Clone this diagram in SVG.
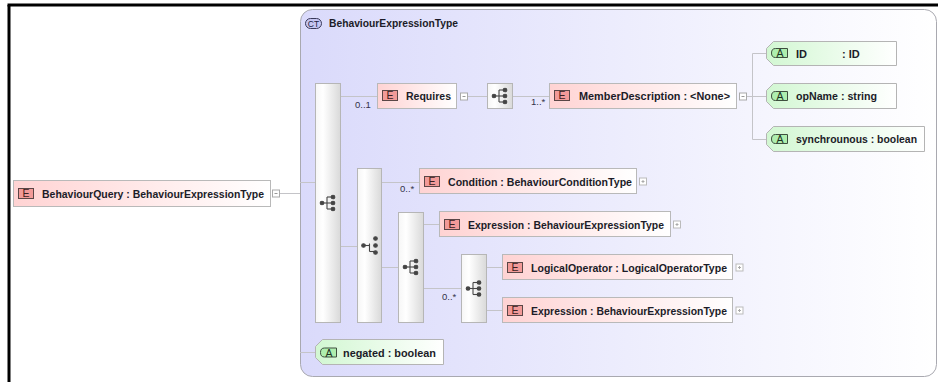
<svg xmlns="http://www.w3.org/2000/svg" width="938" height="382" viewBox="0 0 938 382">
<defs>
<linearGradient id="gCT" x1="0" y1="0" x2="1" y2="0"><stop offset="0" stop-color="#dadafb"/><stop offset="1" stop-color="#ffffff"/></linearGradient>
<linearGradient id="gE" x1="0" y1="0" x2="1" y2="0"><stop offset="0" stop-color="#ffd3d3"/><stop offset="1" stop-color="#ffffff"/></linearGradient>
<linearGradient id="gA" x1="0" y1="0" x2="1" y2="0"><stop offset="0" stop-color="#d2f7d2"/><stop offset="1" stop-color="#ffffff"/></linearGradient>
<linearGradient id="gC" x1="0" y1="0" x2="1" y2="0"><stop offset="0" stop-color="#f6f6f6"/><stop offset="0.3" stop-color="#ffffff"/><stop offset="1" stop-color="#d9d9d9"/></linearGradient>
<g id="seq">
<line x1="-6" y1="0" x2="-1" y2="0"/><line x1="-1" y1="-6" x2="-1" y2="6"/>
<line x1="-1" y1="-6" x2="5" y2="-6"/><line x1="-1" y1="0" x2="5" y2="0"/><line x1="-1" y1="6" x2="5" y2="6"/>
<circle cx="-6" cy="0" r="1.8"/><circle cx="5" cy="-6" r="1.8"/><circle cx="5" cy="0" r="1.8"/><circle cx="5" cy="6" r="1.8"/>
</g>
<g id="cho">
<line x1="-6" y1="0" x2="0" y2="0"/><line x1="0" y1="-2" x2="0" y2="6"/>
<line x1="0" y1="6" x2="6" y2="6"/>
<circle cx="-6" cy="0" r="1.8"/><circle cx="6" cy="-7" r="1.8"/><circle cx="6" cy="0" r="1.8"/><circle cx="6" cy="7" r="1.8"/>
</g>
<g id="minus"><rect x="0" y="0" width="7" height="7" fill="#fff" stroke="#aaa" stroke-width="1"/><line x1="2" y1="3.5" x2="5" y2="3.5" stroke="#999" stroke-width="1"/></g>
<g id="plus"><rect x="0" y="0" width="7" height="7" fill="#fff" stroke="#bbb" stroke-width="1"/><line x1="2" y1="3.5" x2="5" y2="3.5" stroke="#aaa" stroke-width="1"/><line x1="3.5" y1="2" x2="3.5" y2="5" stroke="#aaa" stroke-width="1"/></g>
<g id="eicon"><rect x="0.5" y="0.5" width="15" height="10" fill="#f29a98" stroke="#5a4646" stroke-width="1"/><text x="8" y="9.4" text-anchor="middle" font-family="Liberation Sans, Arial, sans-serif" font-size="10.5" fill="#3a2020">E</text></g>
<g id="aicon"><path d="M4.5,0.5 H16.5 V9.5 H4.5 Q0.5,9.5 0.5,5 Q0.5,0.5 4.5,0.5 Z" fill="#aeeeae" stroke="#3e4e3e" stroke-width="1"/><text x="9" y="9" text-anchor="middle" font-family="Liberation Sans, Arial, sans-serif" font-size="10.5" fill="#203020">A</text></g>
</defs>
<style>
.t{font-family:"Liberation Sans",Arial,sans-serif;font-size:11px;font-weight:bold;fill:#1c1c28}
.c{font-family:"Liberation Sans",Arial,sans-serif;font-size:9.5px;fill:#33334a}
.el{fill:url(#gE);stroke:#b9b9b9;stroke-width:1}
.at{fill:url(#gA);stroke:#b4b4b4;stroke-width:1}
.cp{fill:url(#gC);stroke:#b6b6b6;stroke-width:1}
.ic{stroke:#454545;stroke-width:1.1;fill:#454545}
.ln{stroke:#c4c4c8;stroke-width:1;fill:none}
</style>
<rect width="938" height="382" fill="#ffffff"/>
<g id="frame">
<line x1="7.5" y1="5" x2="938" y2="5" stroke="#000" stroke-width="3"/>
<line x1="9" y1="5" x2="9" y2="382" stroke="#000" stroke-width="3"/>
</g>
<g id="ct">
<rect x="300.5" y="9.5" width="636" height="367" rx="12" fill="url(#gCT)" stroke="#a9a9b0" stroke-width="1"/>
<rect x="305.5" y="18.5" width="16" height="10" rx="5" fill="#c6c6f2" stroke="#3a3a5a" stroke-width="1"/>
<text x="313.5" y="26.5" text-anchor="middle" font-family="Liberation Sans, Arial, sans-serif" font-size="8.5" fill="#202040">CT</text>
<text class="t" x="329" y="27" textLength="129" lengthAdjust="spacingAndGlyphs">BehaviourExpressionType</text>
</g>
<g id="connectors">
<line class="ln" x1="280" y1="193.5" x2="300" y2="193.5"/>
<line class="ln" x1="300" y1="182.5" x2="315" y2="182.5"/>
<line class="ln" x1="341" y1="96.5" x2="377" y2="96.5"/>
<line class="ln" x1="468" y1="96.5" x2="487" y2="96.5"/>
<line class="ln" x1="513" y1="96.5" x2="549" y2="96.5"/>
<line class="ln" x1="747" y1="96.5" x2="766" y2="96.5"/>
<line class="ln" x1="752.5" y1="53.5" x2="752.5" y2="139.5"/>
<line class="ln" x1="752.5" y1="53.5" x2="767" y2="53.5"/>
<line class="ln" x1="752.5" y1="139.5" x2="767" y2="139.5"/>
<line class="ln" x1="341" y1="246.5" x2="357" y2="246.5"/>
<line class="ln" x1="382" y1="182.5" x2="419" y2="182.5"/>
<line class="ln" x1="382" y1="267.5" x2="398" y2="267.5"/>
<line class="ln" x1="424" y1="224.5" x2="439" y2="224.5"/>
<line class="ln" x1="424" y1="288.5" x2="461" y2="288.5"/>
<line class="ln" x1="487" y1="267.5" x2="502" y2="267.5"/>
<line class="ln" x1="487" y1="310.5" x2="502" y2="310.5"/>
<line class="ln" x1="300" y1="352.5" x2="316" y2="352.5"/>
<text class="c" x="355" y="108">0..1</text>
<text class="c" x="531" y="105">1..*</text>
<text class="c" x="400" y="192">0..*</text>
<text class="c" x="442" y="300">0..*</text>
</g>
<g id="seq1"><rect class="cp" x="315.5" y="83.5" width="25" height="239"/><use href="#seq" class="ic" x="328" y="203"/></g>
<g id="choice1"><rect class="cp" x="357.5" y="168.5" width="24" height="154"/><use href="#cho" class="ic" x="369.5" y="245.5"/></g>
<g id="seq2"><rect class="cp" x="398.5" y="212.5" width="25" height="110"/><use href="#seq" class="ic" x="411" y="267"/></g>
<g id="seq3"><rect class="cp" x="461.5" y="254.5" width="25" height="68"/><use href="#seq" class="ic" x="474" y="288.5"/></g>
<g id="seq4"><rect class="cp" x="487.5" y="83.5" width="25" height="25"/><use href="#seq" class="ic" x="500" y="96"/></g>
<g id="BehaviourQuery">
<rect class="el" x="13.5" y="180.5" width="257" height="26"/>
<use href="#eicon" x="18" y="188"/>
<text class="t" x="42" y="197.5" textLength="222" lengthAdjust="spacingAndGlyphs">BehaviourQuery : BehaviourExpressionType</text>
<use href="#minus" x="272.5" y="190"/>
</g>
<g id="Requires">
<rect class="el" x="377.5" y="83.5" width="79" height="25"/>
<use href="#eicon" x="382" y="90"/>
<text class="t" x="406" y="100" textLength="45" lengthAdjust="spacingAndGlyphs">Requires</text>
<use href="#minus" x="460.5" y="93"/>
</g>
<g id="MemberDescription">
<rect class="el" x="549.5" y="83.5" width="187" height="25"/>
<use href="#eicon" x="554" y="90"/>
<text class="t" x="579" y="100" textLength="151" lengthAdjust="spacingAndGlyphs">MemberDescription : &lt;None&gt;</text>
<use href="#minus" x="739.5" y="93"/>
</g>
<g id="attrID">
<path class="at" d="M773.5,41.5 H896.5 V65.5 H773.5 L766.5,58.5 V48.5 Z"/>
<use href="#aicon" x="771" y="48"/>
<text class="t" x="796" y="57.5">ID</text>
<text class="t" x="842" y="57.5">: ID</text>
</g>
<g id="attrOpName">
<path class="at" d="M773.5,83.5 H896.5 V108.5 H773.5 L766.5,101.5 V90.5 Z"/>
<use href="#aicon" x="771" y="91"/>
<text class="t" x="796" y="100" textLength="81" lengthAdjust="spacingAndGlyphs">opName : string</text>
</g>
<g id="attrSynchrounous">
<path class="at" d="M773.5,126.5 H924.5 V151.5 H773.5 L766.5,144.5 V133.5 Z"/>
<use href="#aicon" x="771" y="134"/>
<text class="t" x="796" y="143" textLength="121" lengthAdjust="spacingAndGlyphs">synchrounous : boolean</text>
</g>
<g id="Condition">
<rect class="el" x="419.5" y="168.5" width="217" height="25"/>
<use href="#eicon" x="424" y="176"/>
<text class="t" x="448" y="185.5" textLength="184" lengthAdjust="spacingAndGlyphs">Condition : BehaviourConditionType</text>
<use href="#plus" x="639.5" y="178"/>
</g>
<g id="Expression1">
<rect class="el" x="439.5" y="211.5" width="231" height="25"/>
<use href="#eicon" x="444" y="219"/>
<text class="t" x="468" y="228.5" textLength="196" lengthAdjust="spacingAndGlyphs">Expression : BehaviourExpressionType</text>
<use href="#plus" x="673.5" y="221"/>
</g>
<g id="LogicalOperator">
<rect class="el" x="502.5" y="254.5" width="230" height="25"/>
<use href="#eicon" x="507" y="262"/>
<text class="t" x="531" y="271.5" textLength="196" lengthAdjust="spacingAndGlyphs">LogicalOperator : LogicalOperatorType</text>
<use href="#plus" x="736" y="264"/>
</g>
<g id="Expression2">
<rect class="el" x="502.5" y="297.5" width="230" height="25"/>
<use href="#eicon" x="507" y="305"/>
<text class="t" x="531" y="314.5" textLength="196" lengthAdjust="spacingAndGlyphs">Expression : BehaviourExpressionType</text>
<use href="#plus" x="736" y="307"/>
</g>
<g id="negated">
<path class="at" d="M322.5,339.5 H443.5 V364.5 H322.5 L315.5,357.5 V346.5 Z"/>
<use href="#aicon" x="320" y="347.5"/>
<text class="t" x="343" y="356.5" textLength="93" lengthAdjust="spacingAndGlyphs">negated : boolean</text>
</g>
</svg>
